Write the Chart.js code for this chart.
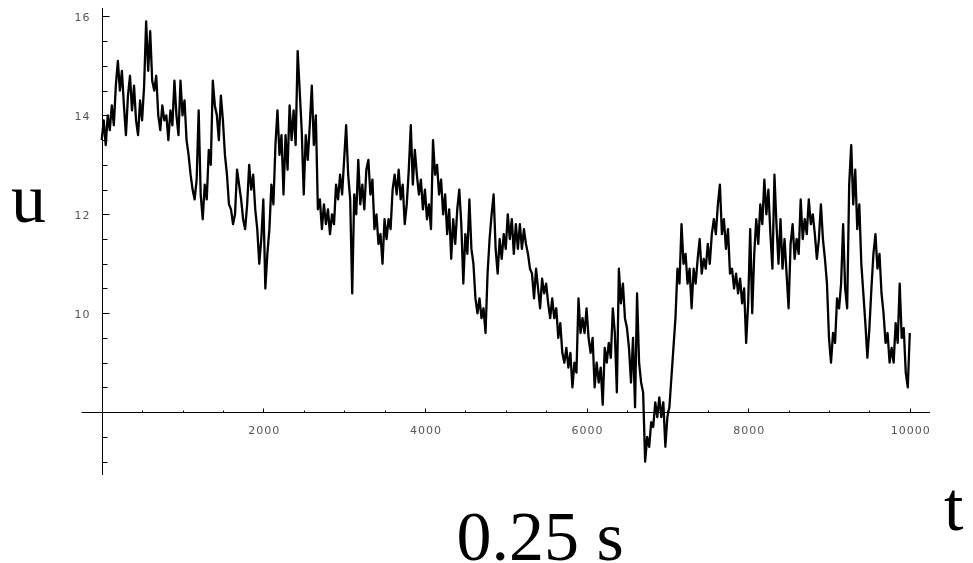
<!DOCTYPE html>
<html>
<head>
<meta charset="utf-8">
<script src="https://cdn.jsdelivr.net/npm/chart.js@4.4.1/dist/chart.umd.min.js"></script>
<style>
  body { margin: 0; background: #fff; }
  canvas { display: block; }
</style>
</head>
<body>
<canvas id="plot" width="973" height="563"></canvas>
<script>
const tStep = 25;
const uValues = [
  13.5, 13.9, 13.4, 14.0, 13.7, 14.2, 13.8, 14.6, 15.1, 14.5,
  14.9, 14.2, 13.6, 14.4, 14.8, 14.1, 14.6, 13.9, 13.6, 14.3,
  13.9, 14.6, 15.9, 14.9, 15.7, 14.7, 14.5, 14.8, 14.0, 13.7,
  14.2, 13.9, 14.0, 13.5, 14.1, 13.8, 14.7, 14.0, 13.6, 14.7,
  14.0, 14.3, 13.5, 13.2, 12.8, 12.5, 12.3, 12.7, 14.1, 12.4,
  11.9, 12.6, 12.3, 13.3, 13.0, 14.7, 14.2, 14.0, 13.5, 14.4,
  13.9, 13.2, 12.8, 12.2, 12.1, 11.8, 12.0, 12.9, 12.6, 12.3,
  11.9, 11.7, 12.2, 13.0, 12.5, 12.8, 12.1, 11.7, 11.0, 11.5,
  12.3, 10.5, 11.2, 11.7, 12.6, 12.2, 13.4, 14.1, 13.2, 13.6,
  12.4, 13.6, 12.9, 14.2, 13.5, 14.1, 13.4, 15.3, 14.5, 13.7,
  12.4, 13.6, 13.1, 13.8, 14.6, 13.4, 14.0, 12.1, 12.3, 11.7,
  12.2, 11.8, 12.1, 11.6, 12.0, 11.8, 12.6, 12.3, 12.8, 12.4,
  13.1, 13.8, 12.8, 12.3, 10.4, 12.4, 12.0, 13.1, 12.2, 12.6,
  12.1, 12.9, 13.1, 12.4, 12.7, 11.7, 12.0, 11.4, 11.6, 11.0,
  11.9, 11.5, 11.9, 11.7, 12.5, 12.8, 12.4, 12.9, 12.3, 12.6,
  11.8, 12.2, 12.9, 13.8, 12.6, 13.3, 12.8, 12.4, 12.7, 12.1,
  12.5, 11.9, 12.2, 11.7, 13.5, 12.8, 13.0, 12.4, 12.7, 12.0,
  12.4, 11.6, 12.1, 11.1, 11.9, 11.4, 12.1, 12.5, 11.8, 10.6,
  11.6, 11.2, 12.3, 11.3, 11.0, 10.3, 10.0, 10.3, 9.9, 10.1,
  9.6, 10.8, 11.5, 12.0, 12.4, 11.3, 10.8, 11.5, 11.1, 11.6,
  11.3, 12.0, 11.5, 11.9, 11.2, 11.8, 11.3, 11.8, 11.3, 11.7,
  11.4, 11.2, 10.9, 10.8, 10.3, 10.9, 10.5, 10.1, 10.7, 10.4,
  10.6, 10.2, 9.9, 10.3, 9.9, 10.1, 9.5, 9.8, 9.2, 9.0,
  9.3, 8.9, 9.2, 8.5, 9.0, 8.8, 10.3, 9.6, 9.9, 9.6,
  10.1, 9.5, 9.2, 9.5, 8.5, 9.0, 8.6, 8.9, 8.15, 9.3,
  9.0, 9.4, 9.1, 10.1, 9.6, 8.4, 10.9, 10.2, 10.6, 9.9,
  9.7, 9.3, 8.6, 9.5, 8.1, 10.4, 9.0, 8.6, 8.4, 7.0,
  7.5, 7.3, 7.8, 7.7, 8.2, 7.9, 8.3, 7.9, 8.2, 7.3,
  7.9, 8.1, 8.7, 9.3, 9.9, 10.9, 10.6, 11.8, 11.0, 11.2,
  10.6, 10.9, 10.1, 10.9, 10.6, 11.1, 11.5, 10.8, 11.1, 10.9,
  11.4, 11.0, 11.6, 11.9, 11.6, 12.2, 12.6, 11.6, 11.9, 11.3,
  11.7, 10.8, 10.9, 10.5, 10.8, 10.4, 10.7, 10.2, 10.5, 9.4,
  10.2, 11.7, 10.0, 11.2, 11.9, 11.4, 12.2, 11.8, 12.7, 12.0,
  12.5, 11.6, 10.9, 12.8, 11.8, 11.0, 11.9, 10.9, 11.5, 10.8,
  10.1, 11.4, 11.8, 11.1, 11.5, 11.2, 12.3, 11.5, 11.9, 11.6,
  12.3, 11.8, 12.0, 11.6, 11.1, 11.5, 12.2, 11.5, 11.1, 10.6,
  9.5, 9.0, 9.6, 9.4, 10.3, 10.1, 10.6, 11.8, 10.5, 10.1,
  12.6, 13.4, 12.2, 12.9, 11.7, 12.2, 11.0, 10.4, 9.8, 9.1,
  9.7, 10.5, 11.2, 11.6, 10.9, 11.2, 10.4, 10.0, 9.4, 9.6,
  9.0, 9.3, 9.0, 9.8, 9.4, 10.6, 9.5, 9.7, 8.8, 8.5,
  9.6
];

const xMajorTicks = [2000, 4000, 6000, 8000, 10000];
const xMinorTicks = [500, 1000, 1500, 2500, 3000, 3500, 4500, 5000, 5500, 6500, 7000, 7500, 8500, 9000, 9500];
const yMajorTicks = [10, 12, 14, 16];
const yMinorTicks = [7, 7.5, 8.5, 9, 9.5, 10.5, 11, 11.5, 12.5, 13, 13.5, 14.5, 15, 15.5];
const xCross = 0;
const yCross = 8;

const points = uValues.map((u, i) => ({ x: i * tStep, y: u }));

// axes drawn Mathematica style: crossing at (0, 8), ticks pointing inward
const axesPlugin = {
  id: "axes",
  afterDatasetsDraw(chart) {
    const ctx = chart.ctx;
    const xs = chart.scales.x;
    const ys = chart.scales.y;
    const area = chart.chartArea;
    const x0 = Math.round(xs.getPixelForValue(xCross)) + 0.5;
    const y0 = Math.round(ys.getPixelForValue(yCross)) + 0.5;

    ctx.save();
    ctx.strokeStyle = "#000";
    ctx.lineWidth = 1;
    ctx.beginPath();
    ctx.moveTo(area.left, y0);
    ctx.lineTo(area.right, y0);
    ctx.moveTo(x0, area.top);
    ctx.lineTo(x0, area.bottom);

    xMajorTicks.forEach((t) => {
      const px = Math.round(xs.getPixelForValue(t)) + 0.5;
      ctx.moveTo(px, y0);
      ctx.lineTo(px, y0 - 4);
    });
    xMinorTicks.forEach((t) => {
      const px = Math.round(xs.getPixelForValue(t)) + 0.5;
      ctx.moveTo(px, y0);
      ctx.lineTo(px, y0 - 2);
    });
    yMajorTicks.forEach((u) => {
      const py = Math.round(ys.getPixelForValue(u)) + 0.5;
      ctx.moveTo(x0, py);
      ctx.lineTo(x0 + 7, py);
    });
    yMinorTicks.forEach((u) => {
      const py = Math.round(ys.getPixelForValue(u)) + 0.5;
      ctx.moveTo(x0, py);
      ctx.lineTo(x0 + 5, py);
    });
    ctx.stroke();

    // tick labels
    ctx.fillStyle = "#555";
    ctx.font = "11px 'DejaVu Sans'";
    ctx.letterSpacing = "1px";
    ctx.textBaseline = "middle";
    ctx.textAlign = "center";
    xMajorTicks.forEach((t) => {
      ctx.fillText(String(t), xs.getPixelForValue(t) + 1, y0 + 19);
    });
    ctx.textAlign = "right";
    yMajorTicks.forEach((u) => {
      ctx.fillText(String(u), x0 - 12, ys.getPixelForValue(u) + 1.5);
    });

    // axis labels
    ctx.letterSpacing = "0px";
    ctx.fillStyle = "#000";
    ctx.font = "70px 'Liberation Serif'";
    ctx.textBaseline = "alphabetic";
    ctx.textAlign = "left";
    ctx.fillText("u", 11, 222);
    ctx.fillText("t", 944, 530);
    ctx.textAlign = "center";
    ctx.fillText("0.25 s", 540, 560);
    ctx.restore();
  },
};

const plot = new Chart(document.getElementById("plot"), {
  type: "line",
  data: {
    datasets: [
      {
        data: points,
        borderColor: "#000",
        borderWidth: 2.3,
        borderJoinStyle: "round",
        pointRadius: 0,
        tension: 0,
        fill: false,
      },
    ],
  },
  options: {
    responsive: false,
    animation: false,
    devicePixelRatio: 1,
    layout: { padding: { left: 81.5, right: 43, top: 8, bottom: 88 } },
    plugins: { legend: { display: false }, tooltip: { enabled: false } },
    scales: {
      x: { type: "linear", min: -250, max: 10250, display: false },
      y: { type: "linear", min: 6.73, max: 16.17, display: false },
    },
  },
  plugins: [axesPlugin],
});
</script>
</body>
</html>
